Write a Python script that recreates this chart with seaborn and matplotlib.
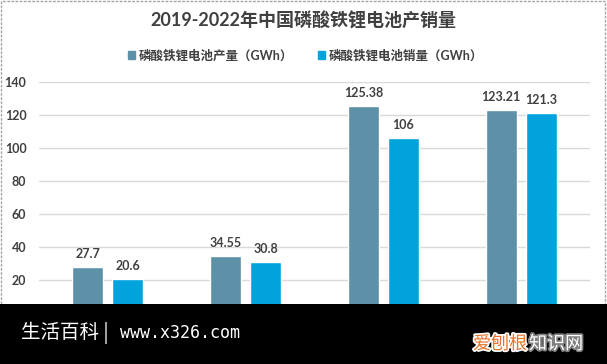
import pandas as pd
import numpy as np
import matplotlib.pyplot as plt
import seaborn as sns
from matplotlib.patches import Rectangle
import matplotlib.patheffects as pe

# data
years = ["2019", "2020", "2021", "2022"]
output_gwh = [27.7, 34.55, 125.38, 123.21]
sales_gwh = [20.6, 30.8, 106, 121.3]
output_labels = ["27.7", "34.55", "125.38", "123.21"]
sales_labels = ["20.6", "30.8", "106", "121.3"]
series_names = ["磷酸铁锂电池产量（GWh）", "磷酸铁锂电池销量（GWh）"]
y_ticks = [0, 20, 40, 60, 80, 100, 120, 140]

df = pd.DataFrame({
    "year": years * 2,
    "series": [series_names[0]] * 4 + [series_names[1]] * 4,
    "value": output_gwh + sales_gwh,
})

sns.set_style("white")
plt.rcParams['font.family'] = ['Lato', 'Noto Sans CJK SC', 'DejaVu Sans']
text_col = "#404040"
colors = ["#5D91A7", "#00A3DC"]

fig = plt.figure(figsize=(6.07, 3.64), dpi=100)
fig.patch.set_facecolor("white")
ax = fig.add_axes([39 / 607, 51 / 364, 551 / 607, 231 / 364])

sns.barplot(data=df, x="year", y="value", hue="series",
            palette=colors, saturation=1, width=0.58, gap=0.224,
            ax=ax, legend=False)

ax.set_ylim(0, 140)
ax.set_yticks(y_ticks)
ax.set_xlim(-0.5, 3.5)
ax.yaxis.grid(True, color="#D9D9D9", linewidth=1)
ax.set_axisbelow(True)
for s in ax.spines.values():
    s.set_visible(False)
ax.tick_params(axis="both", length=0, pad=9, labelsize=9, labelcolor=text_col)
ax.tick_params(axis="x", labelbottom=False)  # years sit under the banner
for lab in ax.get_yticklabels():
    lab.set_fontweight("bold")
ax.set_xlabel("")
ax.set_ylabel("")

for cont, labs in zip(ax.containers, [output_labels, sales_labels]):
    ax.bar_label(cont, labels=labs, padding=5, fontsize=9, fontweight="bold",
                 color=text_col)

# title and legend
fig.text(0.5, 1 - 21 / 364, "2019-2022年中国磷酸铁锂电池产销量", ha="center",
         va="center", fontsize=13, fontweight="bold", color=text_col)
handles = [Rectangle((0, 0), 1, 1, color=c) for c in colors]
fig.legend(handles, series_names, loc="center", bbox_to_anchor=(0.503, 1 - 55 / 364),
           ncol=2, frameon=False, handlelength=0.6, handleheight=0.6,
           handletextpad=0.25, columnspacing=2.0,
           prop={"size": 9, "weight": "bold"}, labelcolor=text_col)

# outer border
fig.add_artist(Rectangle((1 / 607, 0), 604 / 607, 363 / 364, transform=fig.transFigure,
                         fill=False, edgecolor="#A6A6A6", linewidth=1, linestyle=(0, (2, 1))))

# watermark banner
fig.add_artist(Rectangle((0, 0), 1, 60 / 364, transform=fig.transFigure,
                         facecolor="black", edgecolor="none", zorder=10))
fig.text(21 / 607, 1 - 333 / 364, "生活百科 |", ha="left", va="center", fontsize=14,
         color="white", family=["Noto Sans CJK SC"], zorder=11)
fig.text(120 / 607, 1 - 333 / 364, "www.x326.com", ha="left", va="center", fontsize=12,
         color="white", family=["DejaVu Sans Mono"], zorder=11)
fig.text(473 / 607, 1 - 344 / 364, "爱刨根", ha="left", va="center", fontsize=13,
         color="#E8732A", family=["Noto Sans CJK SC"], zorder=11,
         path_effects=[pe.withStroke(linewidth=2.5, foreground="white")])
fig.text(529 / 607, 1 - 344 / 364, "知识网", ha="left", va="center", fontsize=13,
         color="white", family=["Noto Sans CJK SC"], zorder=11,
         path_effects=[pe.withStroke(linewidth=2.5, foreground="#808080")])

fig.savefig("out.png", dpi=100)
